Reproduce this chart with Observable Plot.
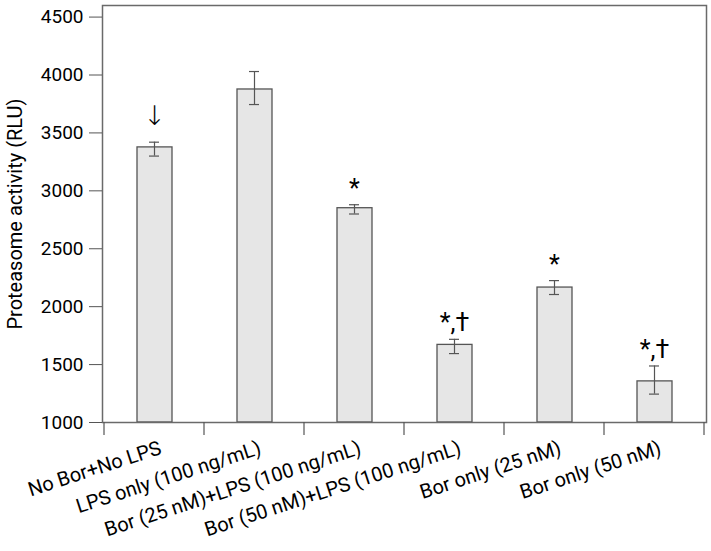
<!DOCTYPE html>
<html>
<head>
<meta charset="utf-8">
<script src="https://cdn.jsdelivr.net/npm/d3@7"></script>
<script src="https://cdn.jsdelivr.net/npm/@observablehq/plot@0.6"></script>
<style>
  html, body { margin: 0; padding: 0; background: #fff; }
  #chart svg { display: block; }
</style>
</head>
<body>
<div id="chart"></div>
<script>
const categories = [
  "No Bor+No LPS",
  "LPS only (100 ng/mL)",
  "Bor (25 nM)+LPS (100 ng/mL)",
  "Bor (50 nM)+LPS (100 ng/mL)",
  "Bor only (25 nM)",
  "Bor only (50 nM)"
];
const means   = [3375, 3875, 2850, 1670, 2165, 1355];
const errLow  = [3300, 3745, 2800, 1595, 2105, 1245];
const errHigh = [3420, 4030, 2880, 1718, 2225, 1488];
const notes   = ["↓", "", "*", "*,†", "*", "*,†"];
const yTicks  = [1000, 1500, 2000, 2500, 3000, 3500, 4000, 4500];
const yLabel  = "Proteasome activity (RLU)";

const FONT = "Roboto, sans-serif";

const data = categories.map((c, i) => ({
  cat: c, mean: means[i], lo: errLow[i], hi: errHigh[i], note: notes[i]
}));

// tick marks at band boundaries, drawn from the library's x scale
function boundaryTicks(index, scales, values, dimensions) {
  const x = scales.x;
  const step = x(categories[1]) - x(categories[0]);
  const y0 = dimensions.height - dimensions.marginBottom;
  const g = d3.create("svg:g").attr("stroke", "#555").attr("stroke-width", 1.2);
  const xs = categories.map(c => x(c)).concat([x(categories[categories.length - 1]) + step]);
  g.selectAll("line").data(xs).join("line")
    .attr("x1", d => d).attr("x2", d => d)
    .attr("y1", y0).attr("y2", y0 + 13);
  return g.node();
}

const chart = Plot.plot({
  width: 711,
  height: 551,
  marginLeft: 102,
  marginRight: 5,
  marginTop: 5,
  marginBottom: 129,
  style: { fontFamily: FONT, fontSize: "19px", background: "white" },
  x: { domain: categories, padding: 0, axis: null },
  y: { domain: [1000, 4600], axis: null },
  marks: [
    Plot.barY(data, {
      x: "cat", y1: 1000, y2: "mean",
      fill: "#e6e6e6", stroke: "#555", strokeWidth: 1.3,
      insetLeft: 33, insetRight: 32
    }),
    Plot.ruleX(data, { x: "cat", y1: "lo", y2: "hi", stroke: "#555", strokeWidth: 1.2 }),
    Plot.tickY(data, { x: "cat", y: "hi", stroke: "#555", strokeWidth: 1.2, insetLeft: 45, insetRight: 45 }),
    Plot.tickY(data, { x: "cat", y: "lo", stroke: "#555", strokeWidth: 1.2, insetLeft: 45, insetRight: 45 }),
    Plot.frame({ stroke: "#6a6a6a", strokeWidth: 1.5 }),
    Plot.axisY({
      ticks: yTicks, tickSize: 13, tickPadding: 6, tickFormat: d => String(d),
      stroke: "#555", fill: "black", label: null, fontSize: 19, fontFamily: FONT
    }),
    boundaryTicks,
    Plot.text(categories, {
      x: d => d, text: d => d, frameAnchor: "bottom",
      dx: 6, dy: 25, rotate: -18, textAnchor: "end", lineAnchor: "middle",
      fontSize: 20, fontFamily: FONT, fill: "black"
    }),
    Plot.text([yLabel], {
      text: d => d, frameAnchor: "left", dx: -87, rotate: -90,
      textAnchor: "middle", lineAnchor: "middle", fontSize: 20, fontFamily: FONT, fill: "black"
    }),
    Plot.text(data.filter(d => d.note === "↓"), {
      x: "cat", y: "hi", text: "note", dy: -26,
      fontSize: 27, fontFamily: "DejaVu Sans", fontWeight: 300, fill: "black", lineAnchor: "middle"
    }),
    Plot.text(data.filter(d => d.note && d.note !== "↓"), {
      x: "cat", y: "hi", text: "note", dy: -16,
      fontSize: 25, fontFamily: FONT, fill: "black", lineAnchor: "middle"
    })
  ]
});

document.getElementById("chart").appendChild(chart);
</script>
</body>
</html>
